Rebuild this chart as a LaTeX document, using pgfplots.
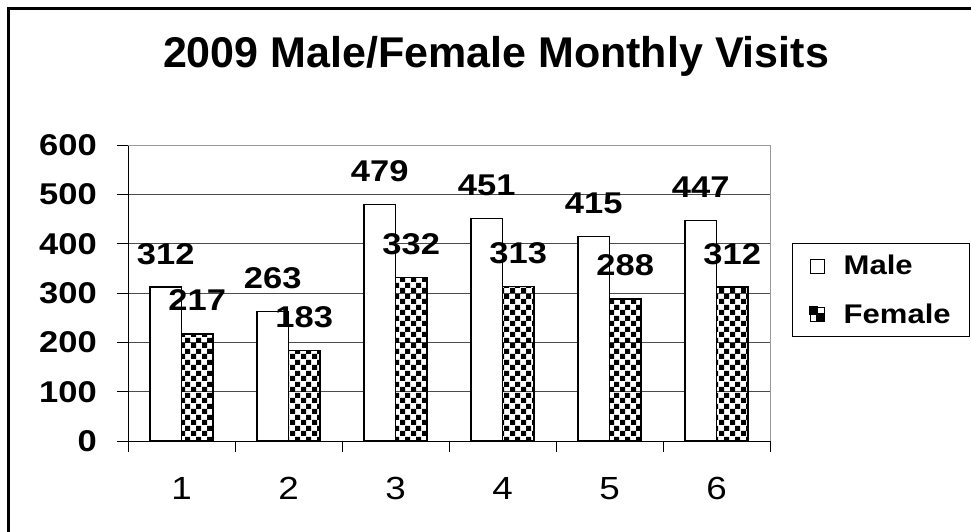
\documentclass[border=0pt]{standalone}
\usepackage{pgfplots}
\pgfplotsset{compat=1.18}
\usepackage{fontspec}
\setmainfont{Liberation Sans}
\newfontfamily\lblfont{Liberation Sans}[FakeStretch=1.15]
\usetikzlibrary{patterns}
\pgfdeclarepatternformonly{bigchecker}{\pgfqpoint{0pt}{0pt}}{\pgfqpoint{10.6pt}{10.6pt}}{\pgfqpoint{10.6pt}{10.6pt}}{%
  \pgfpathrectangle{\pgfqpoint{0pt}{0pt}}{\pgfqpoint{5.3pt}{5.3pt}}%
  \pgfpathrectangle{\pgfqpoint{5.3pt}{5.3pt}}{\pgfqpoint{5.3pt}{5.3pt}}%
  \pgfusepath{fill}}
\pgfplotsset{/pgf/number format/assume math mode=true}
\begin{document}
\begin{tikzpicture}[x=1pt,y=1pt]
\useasboundingbox (0,0) rectangle (971,-531);
\draw[line width=2.5pt] (8.5,-540) -- (8.5,-8.5) -- (980,-8.5);
\node[font=\fontsize{43}{48}\selectfont\bfseries, anchor=base] at (496,-67) {2009 Male/Female Monthly Visits};
\begin{axis}[
  at={(128pt,-441pt)}, anchor=south west,
  width=642pt, height=296pt, scale only axis,
  xmin=0.5, xmax=6.5, ymin=0, ymax=600,
  axis lines=left, axis line style={-, black, line width=0.9pt},
  xtick={0.5,1.5,...,6.5}, xticklabels={1,2,3,4,5,6}, x tick label as interval,
  ytick={0,100,...,600},
  tick align=outside, major tick length=11pt,
  tick style={black, line width=0.9pt},
  ymajorgrids, major grid style={black!70, line width=0.9pt},
  xmajorgrids=false,
  yticklabel style={font=\lblfont\bfseries\fontsize{30}{36}\selectfont, inner sep=0pt, anchor=east, xshift=-31pt+11pt},
  xticklabel style={font=\lblfont\fontsize{32}{38}\selectfont, inner sep=0pt, anchor=north, yshift=-36pt+11pt},
  legend style={at={(axis description cs:1.0343,0.669)}, anchor=north west, draw=black, line width=0.8pt,
    font=\lblfont\bfseries\fontsize{27}{32}\selectfont, inner xsep=17pt, inner ysep=10pt,
    row sep=23pt, cells={anchor=west},
    /tikz/every odd column/.append style={column sep=17pt}},
  clip=false,
]
\addplot[ybar, bar width=31.5pt, bar shift=-15.75pt, fill=white, draw=black, line width=1.3pt,
  legend image code/.code={\draw[black, line width=0.8pt, fill=white] (0pt,-7pt) rectangle (14pt,7pt);},
  nodes near coords, every node near coord/.append style={font=\lblfont\bfseries\fontsize{30}{36}\selectfont, inner sep=0pt, anchor=base, yshift=23pt, xshift=-15.75pt}]
  coordinates {(1,312) (2,263) (3,479) (4,451) (5,415) (6,447)};
\addlegendentry{Male}
\addplot[ybar, bar width=31.5pt, bar shift=15.75pt, pattern=bigchecker, draw=black, line width=1.3pt,
  legend image code/.code={\draw[black, line width=0.8pt, fill=white] (0pt,-7pt) rectangle (14pt,7pt);
    \fill[black] (0pt,0pt) rectangle (7pt,7pt); \fill[black] (7pt,-7pt) rectangle (14pt,0pt);},
  nodes near coords, every node near coord/.append style={font=\lblfont\bfseries\fontsize{30}{36}\selectfont, inner sep=0pt, anchor=base, yshift=23pt, xshift=15.75pt}]
  coordinates {(1,217) (2,183) (3,332) (4,313) (5,288) (6,312)};
\addlegendentry{Female}
\draw[black!40, line width=1pt] (axis cs:0.5,600) -- (axis cs:6.5,600) -- (axis cs:6.5,0);
\end{axis}
\end{tikzpicture}
\end{document}
